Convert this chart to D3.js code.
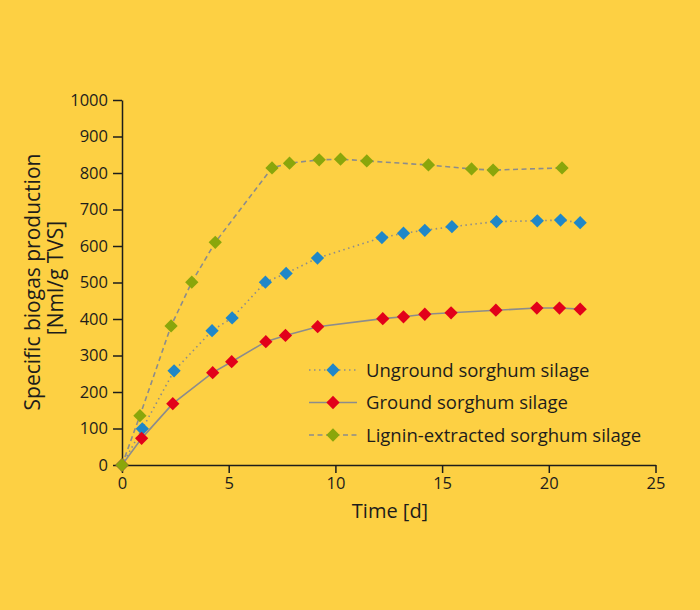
<!DOCTYPE html>
<html>
<head>
<meta charset="utf-8">
<script src="https://cdn.jsdelivr.net/npm/d3@7"></script>
<style>
  body { margin: 0; background: #fdd043; }
  text { font-family: "Open Sans", "Noto Sans", sans-serif; fill: #1d1d1b; }
</style>
</head>
<body>
<svg id="chart" width="700" height="610"></svg>
<script>
// values: time [d] and specific biogas production [Nml/g TVS]
const ungroundX = [0, 0.95, 2.44, 4.22, 5.16, 6.72, 7.69, 9.16, 12.18, 13.19, 14.19, 15.46, 17.55, 19.46, 20.55, 21.47];
const ungroundY = [0, 99, 258, 368, 403, 501, 525, 567, 623, 635, 643, 653, 667, 669, 671, 664];

const groundX = [0, 0.92, 2.38, 4.25, 5.14, 6.74, 7.66, 9.17, 12.22, 13.19, 14.19, 15.42, 17.52, 19.44, 20.5, 21.47];
const groundY = [0, 73, 168, 253, 283, 338, 355, 379, 401, 406, 413, 417, 424, 430, 430, 427];

const ligninX = [0, 0.84, 2.3, 3.27, 4.37, 7.03, 7.85, 9.24, 10.24, 11.47, 14.36, 16.38, 17.39, 20.62];
const ligninY = [0, 135, 381, 501, 610, 814, 827, 836, 838, 833, 822, 811, 808, 814];

const seriesNames = ["Unground sorghum silage", "Ground sorghum silage", "Lignin-extracted sorghum silage"];
const xTicks = [0, 5, 10, 15, 20, 25];
const yTicks = [0, 100, 200, 300, 400, 500, 600, 700, 800, 900, 1000];

const series = [
  { name: seriesNames[0], xs: ungroundX, ys: ungroundY, color: "#1f87c8", dash: "1.5,3.5" },
  { name: seriesNames[1], xs: groundX, ys: groundY, color: "#e2001a", dash: null },
  { name: seriesNames[2], xs: ligninX, ys: ligninY, color: "#8aa60b", dash: "5,3.5" }
];

const svg = d3.select("#chart");
svg.append("rect").attr("width", 700).attr("height", 610).attr("fill", "#fdd043");

const x = d3.scaleLinear().domain([0, 25]).range([122, 655.5]);
const y = d3.scaleLinear().domain([0, 1000]).range([465, 100]);

const xAxis = d3.axisBottom(x).tickValues(xTicks).tickFormat(d3.format("d")).tickSize(8).tickPadding(4).tickSizeOuter(0);
const yAxis = d3.axisLeft(y).tickValues(yTicks).tickFormat(d3.format("d")).tickSize(9).tickPadding(5).tickSizeOuter(0);

const gx = svg.append("g").attr("transform", "translate(0,465)").call(xAxis);
const gy = svg.append("g").attr("transform", "translate(122,0)").call(yAxis);
[gx, gy].forEach(g => {
  g.select(".domain").attr("stroke", "#1d1d1b").attr("stroke-width", 1.5);
  g.selectAll(".tick line").attr("stroke", "#1d1d1b").attr("stroke-width", 1.5);
  g.selectAll(".tick text").style("font-size", "16.5px").attr("fill", "#1d1d1b");
});

svg.append("text").attr("x", 390).attr("y", 518).attr("text-anchor", "middle")
  .style("font-size", "20px").text("Time [d]");
svg.append("text").attr("transform", "translate(40,282) rotate(-90)").attr("text-anchor", "middle")
  .style("font-size", "21px").text("Specific biogas production");
svg.append("text").attr("transform", "translate(63,278) rotate(-90)").attr("text-anchor", "middle")
  .style("font-size", "21px").text("[Nml/g TVS]");

const diamond = d3.symbol().type(d3.symbolSquare).size(88);
const line = d3.line().x(d => x(d[0])).y(d => y(d[1]));

series.forEach(s => {
  const pts = s.xs.map((v, i) => [v, s.ys[i]]);
  svg.append("path").datum(pts)
    .attr("d", line)
    .attr("fill", "none")
    .attr("stroke", "#8c8c8c")
    .attr("stroke-width", 1.6)
    .attr("stroke-dasharray", s.dash);
  svg.append("g").selectAll("path").data(pts).enter().append("path")
    .attr("d", diamond)
    .attr("transform", d => `translate(${x(d[0])},${y(d[1])}) rotate(45)`)
    .attr("fill", s.color);
});

// legend
const legend = svg.append("g");
series.forEach((s, i) => {
  const ly = 370 + i * 32.5;
  legend.append("line").attr("x1", 309).attr("x2", 357).attr("y1", ly).attr("y2", ly)
    .attr("stroke", "#8c8c8c").attr("stroke-width", 1.6).attr("stroke-dasharray", s.dash);
  legend.append("path").attr("d", diamond)
    .attr("transform", `translate(333,${ly}) rotate(45)`).attr("fill", s.color);
  legend.append("text").attr("x", 366).attr("y", ly + 6.5).style("font-size", "18.5px").text(s.name);
});
</script>
</body>
</html>
